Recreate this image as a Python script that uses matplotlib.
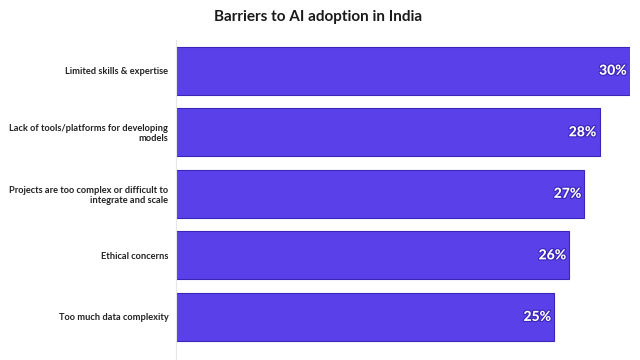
import matplotlib
matplotlib.use("Agg")
import matplotlib.pyplot as plt
import matplotlib.patheffects as pe

categories = [
    "Limited skills & expertise",
    "Lack of tools/platforms for developing\nmodels",
    "Projects are too complex or difficult to\nintegrate and scale",
    "Ethical concerns",
    "Too much data complexity",
]
values = [30, 28, 27, 26, 25]
labels = ["30%", "28%", "27%", "26%", "25%"]

plt.rcParams['font.family'] = ['Lato', 'DejaVu Sans']

fig = plt.figure(figsize=(6.4, 3.6), dpi=100)
ax = fig.add_axes([0.275, 0.0, 0.709, 0.889])

ys = list(range(len(categories)))
ax.barh(ys, values, height=0.78, color='#5a40e8', edgecolor='#3b24b8', linewidth=0.8)
for y, v, l in zip(ys, values, labels):
    ax.text(v - 0.2, y, l, ha='right', va='center', color='white', fontsize=10,
            fontweight='black',
            path_effects=[pe.withStroke(linewidth=1.6, foreground='#3b24b8')])

ax.set_xlim(0, 30)
ax.set_ylim(4.7, -0.5)
ax.set_yticks(ys)
ax.set_yticklabels(categories, fontsize=6.7, fontweight='bold', color='#222222',
                   linespacing=1.15)
ax.tick_params(axis='y', length=0, pad=5.5)
ax.set_xticks([])
for s in ['top', 'right', 'bottom']:
    ax.spines[s].set_visible(False)
ax.spines['left'].set_color('#e6e6e6')
ax.spines['left'].set_linewidth(0.8)

fig.text(0.497, 0.953, "Barriers to AI adoption in India", ha='center', va='center',
         fontsize=11, fontweight='bold', color='#1a1a1a')

fig.savefig("out.png", dpi=100)
